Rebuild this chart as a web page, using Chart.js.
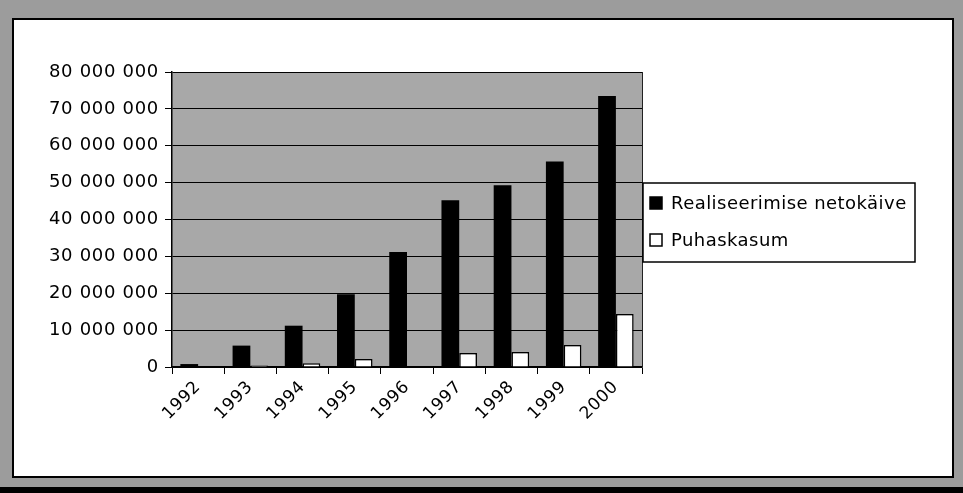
<!DOCTYPE html>
<html>
<head>
<meta charset="utf-8">
<script src="https://cdn.jsdelivr.net/npm/chart.js@4.4.1/dist/chart.umd.min.js"></script>
<style>
  html, body { margin: 0; padding: 0; background: #ffffff; }
  #wrap { width: 963px; height: 493px; position: relative; }
</style>
</head>
<body>
<div id="wrap"><canvas id="c" width="963" height="493"></canvas></div>
<script>
const categories = ['1992', '1993', '1994', '1995', '1996', '1997', '1998', '1999', '2000'];
const netSales = [800000, 5800000, 11200000, 19700000, 31200000, 45200000, 49300000, 55700000, 73500000];
const netProfit = [100000, 400000, 1000000, 2200000, 0, 3800000, 4100000, 6000000, 14400000];
const seriesNames = ['Realiseerimise netokäive', 'Puhaskasum'];
const yTicks = { min: 0, max: 80000000, step: 10000000 };

function fmt(v) {
  return String(v).replace(/\B(?=(\d{3})+(?!\d))/g, ' ');
}

const framePlugin = {
  id: 'frame',
  beforeDraw(chart) {
    const ctx = chart.ctx;
    const W = chart.width, H = chart.height;
    ctx.save();
    ctx.fillStyle = '#9c9c9c';
    ctx.fillRect(0, 0, W, H);
    ctx.fillStyle = '#000';
    ctx.fillRect(0, 487, W, H - 487);
    ctx.fillStyle = '#ffffff';
    ctx.fillRect(13, 19, 940, 458);
    ctx.strokeStyle = '#000';
    ctx.lineWidth = 2;
    ctx.strokeRect(13, 19, 940, 458);
    const a = chart.chartArea;
    ctx.fillStyle = '#a8a8a8';
    ctx.fillRect(a.left, a.top, a.right - a.left, a.bottom - a.top);
    ctx.restore();
    ctx.letterSpacing = '0.7px';
  },
  afterDraw(chart) {
    const ctx = chart.ctx;
    const a = chart.chartArea;
    ctx.save();
    ctx.strokeStyle = '#222';
    ctx.lineWidth = 1;
    ctx.beginPath();
    ctx.moveTo(a.right + 0.5, a.top);
    ctx.lineTo(a.right + 0.5, a.bottom);
    ctx.stroke();
    // legend
    const lx = 643, ly = 183, lw = 272, lh = 79;
    ctx.fillStyle = '#fff';
    ctx.fillRect(lx, ly, lw, lh);
    ctx.strokeStyle = '#000';
    ctx.lineWidth = 1.5;
    ctx.strokeRect(lx, ly, lw, lh);
    ctx.font = "18px 'DejaVu Sans'";
    ctx.letterSpacing = '0.45px';
    ctx.textBaseline = 'middle';
    ctx.textAlign = 'left';
    const rows = [203, 240];
    chart.data.datasets.forEach((ds, i) => {
      const y = rows[i];
      ctx.fillStyle = ds.backgroundColor;
      ctx.fillRect(650, y - 6, 12, 12);
      ctx.strokeStyle = '#000';
      ctx.lineWidth = 1.5;
      ctx.strokeRect(650, y - 6, 12, 12);
      ctx.fillStyle = '#000';
      ctx.fillText(ds.label, 671, y + 1);
    });
    ctx.restore();
    ctx.letterSpacing = '0px';
  }
};

new Chart(document.getElementById('c'), {
  type: 'bar',
  data: {
    labels: categories,
    datasets: [
      { label: seriesNames[0], data: netSales, backgroundColor: '#000000', borderColor: '#000000', borderWidth: 0 },
      { label: seriesNames[1], data: netProfit, backgroundColor: '#ffffff', borderColor: '#000000', borderWidth: 1.5 }
    ]
  },
  options: {
    responsive: false,
    animation: false,
    devicePixelRatio: 1,
    layout: { padding: { left: 0, top: 72, right: 321, bottom: 0 } },
    datasets: { bar: { categoryPercentage: 0.68, barPercentage: 1.0 } },
    plugins: { legend: { display: false }, tooltip: { enabled: false } },
    scales: {
      x: {
        offset: true,
        grid: { display: true, drawOnChartArea: false, drawTicks: true, tickLength: 7, color: '#000', offset: true },
        border: { display: true, color: '#000', width: 1.5 },
        ticks: { color: '#000', font: { family: "'DejaVu Sans'", size: 17 }, minRotation: 45, maxRotation: 45, padding: 3, autoSkip: false },
        afterFit(scale) { scale.height = 126; }
      },
      y: {
        min: yTicks.min,
        max: yTicks.max,
        grid: { color: '#000', lineWidth: 1, tickLength: 7, drawTicks: true },
        border: { display: true, color: '#000', width: 1.5 },
        ticks: { stepSize: yTicks.step, color: '#000', font: { family: "'DejaVu Sans'", size: 18 }, padding: 6, callback: (v) => fmt(v) },
        afterFit(scale) { scale.width = 172; }
      }
    }
  },
  plugins: [framePlugin]
});
</script>
</body>
</html>
